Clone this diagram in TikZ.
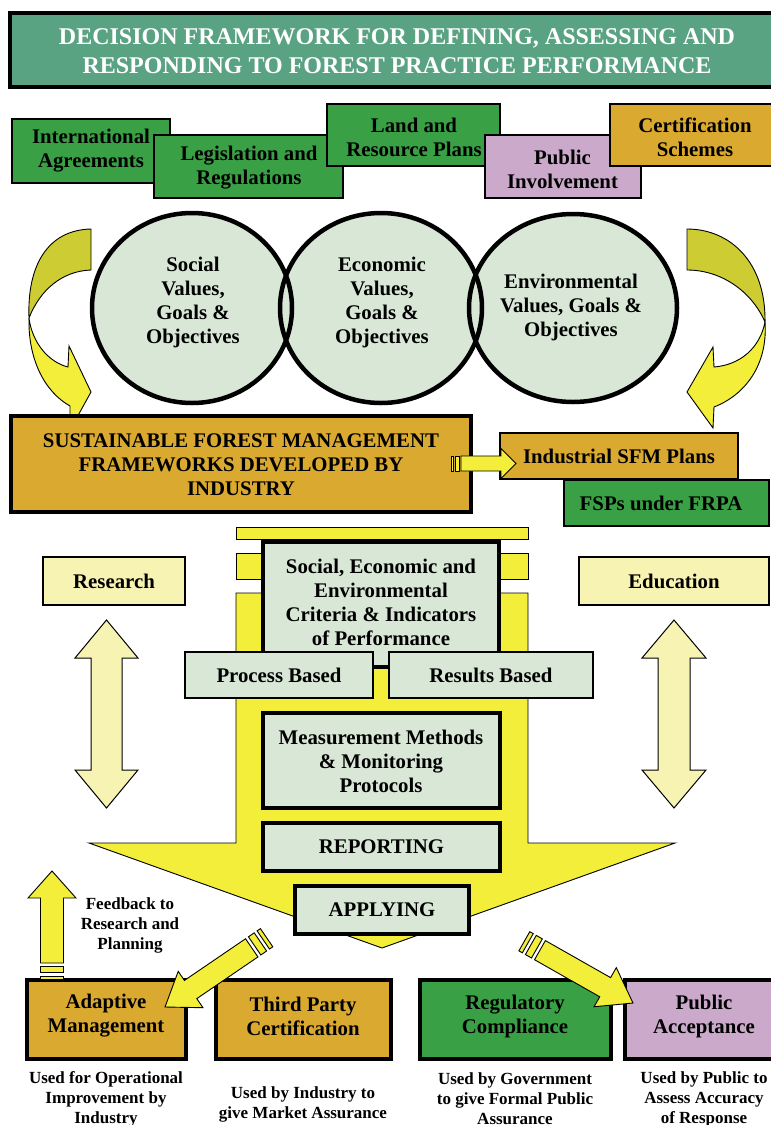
\documentclass[tikz,border=0pt]{standalone}
\usepackage{fontspec}
\setmainfont{Liberation Serif}
\usetikzlibrary{shapes.geometric}

\definecolor{titlegreen}{HTML}{5AA382}
\definecolor{boxgreen}{HTML}{3AA045}
\definecolor{gold}{HTML}{DAA92F}
\definecolor{lilac}{HTML}{CBA9CA}
\definecolor{mint}{HTML}{D9E7D7}
\definecolor{yel}{HTML}{F2EE3A}
\definecolor{olive}{HTML}{CDCC33}
\definecolor{paleyel}{HTML}{F7F3B2}

\tikzset{
  bodytxt/.style={font=\bfseries\fontsize{20.8}{24}\selectfont, align=center, inner sep=0pt},
  captxt/.style={font=\bfseries\fontsize{17}{20}\selectfont, align=center, inner sep=0pt},
  tbox/.style={draw=black, line width=1.2pt, inner sep=0pt},
  kbox/.style={draw=black, line width=4.5pt, inner sep=0pt},
  yshape/.style={fill=yel, draw=black, line width=0.9pt, line join=miter},
  pshape/.style={fill=paleyel, draw=black, line width=1pt, line join=miter},
}

% block arrow with two stripes at its tail:
% #1 tip, #2 direction, #3 head length, #4 head half width, #5 shaft half width,
% #6 tip-to-shaft-end length, #7 gap, #8 wide stripe, #9 thin stripe
\newcommand\stripearrow[9]{%
  \begin{scope}[shift={#1}, rotate=#2]
    \draw[yshape] (0,0) -- (-#3,#4) -- (-#3,#5) -- (-#6,#5) -- (-#6,-#5)
      -- (-#3,-#5) -- (-#3,-#4) -- cycle;
    \draw[yshape] ({-#6-#7},#5) rectangle ({-#6-#7-#8},-#5);
    \draw[yshape] ({-#6-2*#7-#8},#5) rectangle ({-#6-2*#7-#8-#9},-#5);
  \end{scope}}

\begin{document}
\begin{tikzpicture}[x=1pt,y=-1pt]
\useasboundingbox (0,0) rectangle (771,1125);
\clip (0,0) rectangle (771,1125);

% ---- title banner
\node[kbox, fill=titlegreen, minimum width=770pt, minimum height=74pt] (title) at (395,50) {};
\node[font=\bfseries\fontsize{24}{29}\selectfont, text=white, align=center, inner sep=0pt]
  (titletxt) at (397,51) {DECISION FRAMEWORK FOR DEFINING, ASSESSING AND\\RESPONDING TO FOREST PRACTICE PERFORMANCE};

% ---- sources of values
\node[tbox, fill=boxgreen, minimum width=158pt, minimum height=64pt] (intl) at (91,151) {};
\node[bodytxt] (intltxt) at (91,151) {International\\Agreements};
\node[tbox, fill=boxgreen, minimum width=189pt, minimum height=63pt] (legis) at (248.5,166.5) {};
\node[bodytxt] (legistxt) at (249,167.5) {Legislation and\\Regulations};
\node[tbox, fill=boxgreen, minimum width=173pt, minimum height=62pt] (land) at (413.5,135) {};
\node[bodytxt] (landtxt) at (414,137.5) {Land and\\Resource Plans};
\node[tbox, fill=lilac, minimum width=156pt, minimum height=63pt] (pubinv) at (563,166.5) {};
\node[bodytxt] (pubinvtxt) at (562.5,169) {Public\\Involvement};
\node[tbox, fill=gold, minimum width=170pt, minimum height=62pt] (certs) at (695,135) {};
\node[bodytxt] (certstxt) at (695,137.5) {Certification\\Schemes};

% ---- curved ribbon arrows
\draw[fill=olive, line width=0.9pt] (91,229) .. controls (48,230) and (27,265) .. (29,318)
  .. controls (40,290) and (62,271) .. (91,270) -- cycle;
\draw[yshape] (29,318) .. controls (32,342) and (48,362) .. (68,367) -- (69,346) -- (91,392)
  -- (70,430) -- (70,406) .. controls (45,392) and (28,360) .. (29,318) -- cycle;
\draw[fill=olive, line width=0.9pt] (687,229) .. controls (730,229) and (766,262) .. (765,322)
  .. controls (752,292) and (722,270) .. (687,270) -- cycle;
\draw[yshape] (765,322) .. controls (760,348) and (740,365) .. (714,367) -- (713,347) -- (687,392)
  -- (713,428) -- (714,407) .. controls (745,395) and (768,365) .. (765,322) -- cycle;

% ---- values, goals and objectives
\fill[mint] (192,308) ellipse [x radius=100pt, y radius=95pt];
\fill[mint] (381,308) ellipse [x radius=101pt, y radius=95pt];
\fill[mint] (573,308) ellipse [x radius=104pt, y radius=94pt];
\node[draw, ellipse, line width=4.5pt, inner sep=0pt, minimum width=200pt, minimum height=190pt] (soc) at (192,308) {};
\node[draw, ellipse, line width=4.5pt, inner sep=0pt, minimum width=202pt, minimum height=190pt] (eco) at (381,308) {};
\node[draw, ellipse, line width=4.5pt, inner sep=0pt, minimum width=208pt, minimum height=188pt] (env) at (573,308) {};
\node[bodytxt] (soctxt) at (193,302) {Social\\Values,\\Goals \&\\Objectives};
\node[bodytxt] (ecotxt) at (382,302) {Economic\\Values,\\Goals \&\\Objectives};
\node[bodytxt] (envtxt) at (571,307) {Environmental\\Values, Goals \&\\Objectives};

% ---- industry frameworks
\node[kbox, fill=gold, minimum width=460pt, minimum height=96pt] (sfm) at (241,464) {};
\node[bodytxt] (sfmtxt) at (241,465) {SUSTAINABLE FOREST MANAGEMENT\\FRAMEWORKS DEVELOPED BY\\INDUSTRY};
\node[tbox, fill=gold, minimum width=238pt, minimum height=46pt] (indplan) at (619,456) {};
\node[bodytxt] (indplantxt) at (619,456) {Industrial SFM Plans};
\node[tbox, fill=boxgreen, minimum width=205pt, minimum height=46pt] (fsp) at (666.5,503) {};
\node[bodytxt] (fsptxt) at (661,503) {FSPs under FRPA};
\stripearrow{(516,463.5)}{0}{15}{15}{7.5}{55}{2}{4}{2}

% ---- main downward flow
\draw[yshape] (236,593) -- (236,843) -- (89,843) -- (382,948) -- (675,843) -- (528,843)
  -- (528,593) -- cycle;
\draw[yshape] (236,527) rectangle (528,539);
\draw[yshape] (236,553) rectangle (528,579);

\node[kbox, fill=mint, minimum width=236pt, minimum height=125pt] (crit) at (381,604.5) {};
\node[bodytxt] (crittxt) at (381,602) {Social, Economic and\\Environmental\\Criteria \& Indicators\\of Performance};
\node[tbox, fill=mint, minimum width=188pt, minimum height=46pt, bodytxt] (proc) at (279,675) {Process Based};
\node[tbox, fill=mint, minimum width=204pt, minimum height=46pt, bodytxt] (resb) at (491,675) {Results Based};
\node[kbox, fill=mint, minimum width=237pt, minimum height=95pt] (meas) at (381.5,760.5) {};
\node[bodytxt] (meastxt) at (381,761) {Measurement Methods\\\& Monitoring\\Protocols};
\node[kbox, fill=mint, minimum width=237pt, minimum height=48pt, bodytxt] (rep) at (381.5,847) {REPORTING};
\node[kbox, fill=mint, minimum width=174pt, minimum height=48pt, bodytxt] (apply) at (382,910) {APPLYING};

% ---- research and education
\node[tbox, fill=paleyel, minimum width=142pt, minimum height=48pt, bodytxt] (res) at (114,581) {Research};
\node[tbox, fill=paleyel, minimum width=190pt, minimum height=48pt, bodytxt] (edu) at (674,581) {Education};
\draw[pshape] (106.5,620) -- (138,658) -- (122,658) -- (122,770) -- (138,770) -- (106.5,808)
  -- (75,770) -- (91,770) -- (91,658) -- (75,658) -- cycle;
\draw[pshape] (674,620) -- (706,658) -- (690,658) -- (690,770) -- (706,770) -- (674,808)
  -- (642,770) -- (658,770) -- (658,658) -- (642,658) -- cycle;

% ---- outcomes
\node[kbox, fill=gold, minimum width=159pt, minimum height=79pt] (adapt) at (106.5,1019.5) {};
\node[bodytxt] (adapttxt) at (106,1016) {Adaptive\\Management};
\node[kbox, fill=gold, minimum width=175pt, minimum height=79pt] (third) at (303.5,1019.5) {};
\node[bodytxt] (thirdtxt) at (303,1016) {Third Party\\Certification};
\node[kbox, fill=boxgreen, minimum width=191pt, minimum height=79pt] (regul) at (515.5,1019.5) {};
\node[bodytxt] (regultxt) at (515,1016) {Regulatory\\Compliance};
\node[kbox, fill=lilac, minimum width=159pt, minimum height=79pt] (pubacc) at (704.5,1019.5) {};
\node[bodytxt] (pubacctxt) at (704,1016) {Public\\Acceptance};

\node[captxt] (cap1) at (106,1099) {Used for Operational\\Improvement by\\Industry};
\node[captxt] (cap2) at (303,1104) {Used by Industry to\\give Market Assurance};
\node[captxt] (cap3) at (515,1099) {Used by Government\\to give Formal Public\\Assurance};
\node[captxt] (cap4) at (704,1099) {Used by Public to\\Assess Accuracy\\of Response};

\node[captxt] (feedback) at (130,925) {Feedback to\\Research and\\Planning};
\stripearrow{(52,871)}{90}{27}{24}{11.5}{92}{3.5}{6}{3}
\stripearrow{(165,1007)}{-145.7}{31}{22}{11}{105}{3.5}{7}{4}
\stripearrow{(633,1003)}{-29.6}{32}{22.5}{11}{107}{3.5}{7}{4}

\end{tikzpicture}
\end{document}
